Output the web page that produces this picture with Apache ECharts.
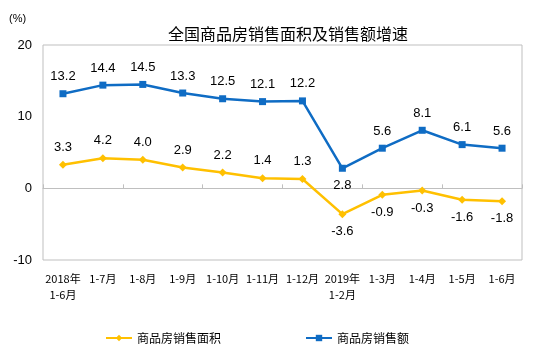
<!DOCTYPE html>
<html>
<head>
<meta charset="utf-8">
<script src="https://cdn.jsdelivr.net/npm/echarts@6/dist/echarts.min.js"></script>
<style>
  html, body { margin: 0; padding: 0; background: #fff; }
  #chart { width: 535px; height: 354px; }
</style>
</head>
<body>
<div id="chart"></div>
<script>
var categories = ['2018年\n1-6月', '1-7月', '1-8月', '1-9月', '1-10月', '1-11月', '1-12月',
  '2019年\n1-2月', '1-3月', '1-4月', '1-5月', '1-6月'];
var areaGrowth = [3.3, 4.2, 4.0, 2.9, 2.2, 1.4, 1.3, -3.6, -0.9, -0.3, -1.6, -1.8];
var salesGrowth = [13.2, 14.4, 14.5, 13.3, 12.5, 12.1, 12.2, 2.8, 5.6, 8.1, 6.1, 5.6];

var labelFont = 'Arial, "Liberation Sans", "Noto Sans CJK SC", sans-serif';
var cjkFont = '"Noto Sans CJK SC", sans-serif';

// label above the point, except negatives and the sales trough
function withLabels(arr, below) {
  return arr.map(function (v) {
    return { value: v, label: { position: below(v) ? 'bottom' : 'top' } };
  });
}
var salesMin = Math.min.apply(null, salesGrowth);

var chart = echarts.init(document.getElementById('chart'));
chart.setOption({
  animation: false,
  title: {
    text: '全国商品房销售面积及销售额增速',
    left: 163,
    top: 21,
    textStyle: { fontFamily: cjkFont, fontSize: 16, fontWeight: 'normal', color: '#000' }
  },
  graphic: [{
    type: 'text',
    left: 9,
    top: 13,
    style: { text: '(%)', fontFamily: labelFont, fontSize: 11, fill: '#000' }
  }],
  grid: {
    left: 43, right: 13, top: 45, bottom: 94,
    show: true, borderColor: '#bfbfbf', borderWidth: 1
  },
  legend: {
    bottom: 5,
    left: 100,
    itemGap: 84,
    itemWidth: 26,
    itemHeight: 8,
    textStyle: { fontFamily: cjkFont, fontSize: 12, color: '#000' },
    data: ['商品房销售面积', '商品房销售额']
  },
  xAxis: [{
    type: 'category',
    data: categories,
    boundaryGap: true,
    axisLine: { onZero: true, lineStyle: { color: '#bfbfbf' } },
    axisTick: { show: true, inside: true, length: 4, lineStyle: { color: '#bfbfbf' } },
    axisLabel: { show: false }
  }, {
    type: 'category',
    data: categories,
    position: 'bottom',
    boundaryGap: true,
    axisLine: { show: false, onZero: false },
    axisTick: { show: false },
    axisLabel: {
      interval: 0,
      margin: 11,
      fontFamily: cjkFont,
      fontSize: 11,
      color: '#000',
      lineHeight: 16
    }
  }],
  yAxis: {
    type: 'value',
    min: -10,
    max: 20,
    interval: 10,
    splitLine: { show: false },
    axisLine: { show: false },
    axisTick: { show: false },
    axisLabel: { fontFamily: labelFont, fontSize: 13, color: '#000', margin: 11 }
  },
  series: [{
    name: '商品房销售面积',
    type: 'line',
    xAxisIndex: 0,
    data: withLabels(areaGrowth, function (v) { return v < 0; }),
    symbol: 'diamond',
    symbolSize: 8,
    itemStyle: { color: '#ffc000' },
    lineStyle: { color: '#ffc000', width: 2.5 },
    label: {
      show: true, fontFamily: labelFont, fontSize: 13, color: '#000', distance: 7,
      formatter: function (p) { return p.value.toFixed(1); }
    }
  }, {
    name: '商品房销售额',
    type: 'line',
    xAxisIndex: 0,
    data: withLabels(salesGrowth, function (v) { return v === salesMin; }),
    symbol: 'rect',
    symbolSize: 7,
    itemStyle: { color: '#0f6cc4' },
    lineStyle: { color: '#0f6cc4', width: 2.5 },
    label: {
      show: true, fontFamily: labelFont, fontSize: 13, color: '#000', distance: 7,
      formatter: function (p) { return p.value.toFixed(1); }
    }
  }]
});
</script>
</body>
</html>
